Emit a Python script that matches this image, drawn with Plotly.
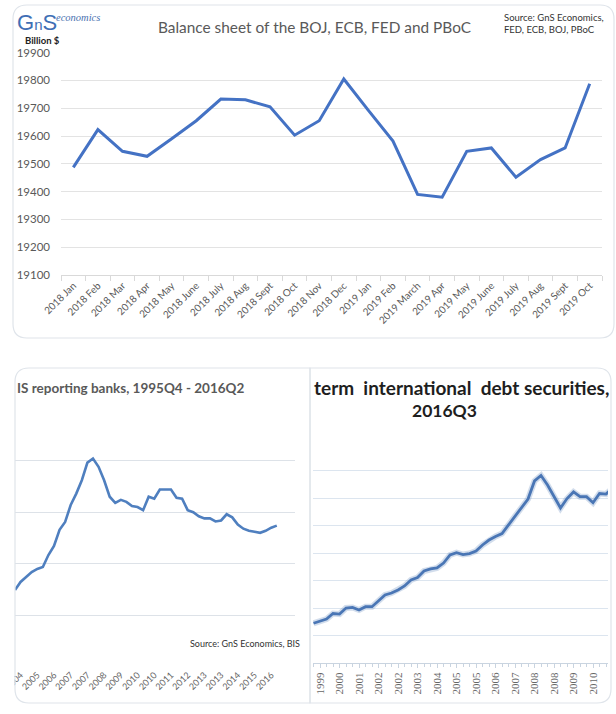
import plotly.graph_objects as go

W, H = 616, 714


def px(x):
    return x / W


def py(y):
    return 1 - y / H


# ---------------- data ----------------
# Top chart: balance sheet of BOJ, ECB, FED and PBoC (billion $)
months = ["2018 Jan", "2018 Feb", "2018 Mar", "2018 Apr", "2018 May", "2018 June",
          "2018 July", "2018 Aug", "2018 Sept", "2018 Oct", "2018 Nov", "2018 Dec",
          "2019 Jan", "2019 Feb", "2019 March", "2019 Apr", "2019 May", "2019 June",
          "2019 July", "2019 Aug", "2019 Sept", "2019 Oct"]
balance = [19487, 19623, 19545, 19527, 19590, 19655, 19733, 19730, 19705, 19603, 19655,
           19805, 19692, 19582, 19390, 19380, 19545, 19557, 19452, 19515, 19557, 19788]

# Bottom-left chart: BIS reporting banks, quarterly, visible part 2004Q3 - 2016Q2
bis_first_quarter = 2004.5
bis_values = [7.46, 8.24, 8.72, 9.2, 9.5, 9.69, 10.85, 11.73, 13.3, 14.05, 15.7, 16.8,
              18.1, 19.8, 20.2, 19.4, 18.1, 16.5, 15.9, 16.2, 16.0, 15.6, 15.5, 15.2,
              16.5, 16.3, 17.2, 17.2, 17.2, 16.4, 16.3, 15.2, 15.0, 14.6, 14.4, 14.4,
              14.1, 14.2, 14.8, 14.5, 13.8, 13.4, 13.2, 13.1, 13.0, 13.2, 13.5, 13.7]
bis_tick_labels = ["2004", "2005", "2006", "2007", "2007", "2008", "2009", "2010", "2010",
                   "2011", "2012", "2013", "2013", "2014", "2015", "2016"]
bis_first_tick = 2004.75

# Bottom-right chart: international debt securities, quarterly, visible part 1999Q3 - 2011Q1
debt_first_quarter = 1999.5
debt_values = [3.61, 3.82, 4.0, 4.5, 4.45, 5.0, 5.05, 4.82, 5.12, 5.12, 5.64, 6.18, 6.36,
               6.64, 7.0, 7.55, 7.77, 8.36, 8.55, 8.64, 9.09, 9.82, 10.03, 9.86, 9.95,
               10.18, 10.73, 11.18, 11.5, 11.77, 12.55, 13.36, 14.18, 14.91, 16.55, 17.05,
               16.18, 15.18, 14.09, 14.95, 15.55, 15.12, 15.12, 14.57, 15.41, 15.36, 15.9]
debt_tick_labels = ["1999", "2000", "2001", "2002", "2002", "2003", "2004", "2005", "2005",
                    "2006", "2007", "2008", "2008", "2009", "2010"]
debt_first_tick = 1999.75

bis_x = [bis_first_quarter + 0.25 * i for i in range(len(bis_values))]
bis_tickvals = [bis_first_tick + 0.75 * i for i in range(len(bis_tick_labels))]
debt_x = [debt_first_quarter + 0.25 * i for i in range(len(debt_values))]
debt_tickvals = [debt_first_tick + 0.75 * i for i in range(len(debt_tick_labels))]

FONT = "Lato, Carlito, Calibri, sans-serif"
GRAY = "#595959"

fig = go.Figure()

fig.add_trace(go.Scatter(x=months, y=balance, mode="lines", xaxis="x", yaxis="y",
                         line=dict(color="#4472c4", width=3), hoverinfo="skip"))
fig.add_trace(go.Scatter(x=bis_x, y=bis_values, mode="lines", xaxis="x2", yaxis="y2",
                         line=dict(color="#4f7fbf", width=2.6), hoverinfo="skip"))
fig.add_trace(go.Scatter(x=debt_x, y=debt_values, mode="lines", xaxis="x3", yaxis="y3",
                         line=dict(color="rgba(74,118,181,0.25)", width=6), hoverinfo="skip"))
fig.add_trace(go.Scatter(x=debt_x, y=debt_values, mode="lines", xaxis="x3", yaxis="y3",
                         line=dict(color="#4a76b5", width=2.8), hoverinfo="skip"))


def rounded_path(x0, y0, x1, y1, r_tl, r_tr, r_br, r_bl):
    # pixel coords -> paper coords, rounded corners via quadratic curves
    pts = []
    pts.append(f"M{px(x0 + r_tl)},{py(y0)}")
    pts.append(f"L{px(x1 - r_tr)},{py(y0)}")
    pts.append(f"Q{px(x1)},{py(y0)} {px(x1)},{py(y0 + r_tr)}")
    pts.append(f"L{px(x1)},{py(y1 - r_br)}")
    pts.append(f"Q{px(x1)},{py(y1)} {px(x1 - r_br)},{py(y1)}")
    pts.append(f"L{px(x0 + r_bl)},{py(y1)}")
    pts.append(f"Q{px(x0)},{py(y1)} {px(x0)},{py(y1 - r_bl)}")
    pts.append(f"L{px(x0)},{py(y0 + r_tl)}")
    pts.append(f"Q{px(x0)},{py(y0)} {px(x0 + r_tl)},{py(y0)}")
    pts.append("Z")
    return " ".join(pts)


BORDER = "#dfe4ea"
shapes = [
    # mask left of bottom-left card (clips the first tick label)
    dict(type="rect", xref="paper", yref="paper", x0=0, x1=px(14.5), y0=0, y1=py(360),
         fillcolor="white", line=dict(width=0), layer="above"),
    dict(type="path", xref="paper", yref="paper",
         path=rounded_path(13, 5, 614, 338, 14, 14, 14, 14),
         line=dict(color=BORDER, width=1.2), layer="above"),
    dict(type="path", xref="paper", yref="paper",
         path=rounded_path(15, 368, 310, 703, 14, 0, 0, 14),
         line=dict(color=BORDER, width=1.2), layer="above"),
    dict(type="path", xref="paper", yref="paper",
         path=rounded_path(310, 368, 611, 703, 0, 14, 14, 0),
         line=dict(color=BORDER, width=1.2), layer="above"),
]


def note(text, x, y, size, color, xanchor="left", yanchor="middle", family=FONT,
         align="left"):
    return dict(text=text, x=px(x), y=py(y), xref="paper", yref="paper",
                xanchor=xanchor, yanchor=yanchor, align=align, showarrow=False,
                font=dict(family=family, size=size, color=color))


annotations = [
    note("Balance sheet of the BOJ, ECB, FED and PBoC", 314, 27, 15.4, GRAY,
         xanchor="center"),
    note("Source: GnS Economics,<br>FED, ECB, BOJ, PBoC", 502, 10, 9.5, "#333333",
         yanchor="top"),
    note("<b>Billion $</b>", 23, 40, 9.5, "#222222"),
    note("G<span style='font-size:15px'>n</span>S", 15, 22, 22, "#3f6fb5",
         family="Liberation Sans, sans-serif"),
    note("<i>economics</i>", 54, 17, 10.5, "#4a72b0", family="Liberation Serif, serif"),
    note("<b>IS reporting banks, 1995Q4 - 2016Q2</b>", 15, 388, 13.5, GRAY),
    note("Source: GnS Economics, BIS", 188, 643, 9, "#333333"),
    note("<b>term\u00a0\u00a0international\u00a0\u00a0debt securities,</b>", 312, 388, 19,
         "#1e1e1e"),
    note("<b>2016Q3</b>", 444, 411, 17.5, "#1e1e1e", xanchor="center"),
]

fig.update_layout(
    template="none",
    width=W, height=H, autosize=False,
    margin=dict(l=0, r=0, t=0, b=0, pad=0),
    paper_bgcolor="white", plot_bgcolor="rgba(0,0,0,0)",
    showlegend=False, hovermode=False,
    shapes=shapes, annotations=annotations,
    # top chart
    xaxis=dict(domain=[px(61), px(602)], anchor="y", type="category", automargin=False,
               range=[-0.5, len(months) - 0.5], tickson="boundaries",
               ticks="outside", ticklen=5, tickcolor="#d9d9d9", showgrid=False,
               showline=True, linecolor="#d9d9d9", linewidth=1, tickangle=-45,
               tickfont=dict(family=FONT, size=10, color=GRAY), zeroline=False,
               fixedrange=True),
    yaxis=dict(domain=[py(275), py(52.6)], anchor="x", range=[19100, 19900], dtick=100,
               automargin=False, tickformat="d",
               showgrid=True, gridcolor="#e3e3e3", gridwidth=1, zeroline=False,
               showline=False, ticks="", ticklabelstandoff=10,
               tickfont=dict(family=FONT, size=11.5, color=GRAY), fixedrange=True),
    # bottom-left chart
    xaxis2=dict(domain=[px(15), px(295)], anchor="y2", automargin=False,
                range=[bis_first_quarter, bis_first_quarter + 280 / 22.28],
                tickmode="array", tickvals=bis_tickvals, ticktext=bis_tick_labels,
                ticks="", showgrid=False, showline=False, zeroline=False, tickangle=-45,
                tickfont=dict(family=FONT, size=9, color="#666666"), fixedrange=True),
    yaxis2=dict(domain=[py(667), py(409)], anchor="x2", range=[0, 25], dtick=5,
                automargin=False,
                showgrid=True, gridcolor="#dde2e8", gridwidth=1, zeroline=False,
                showticklabels=False, ticks="", showline=False, fixedrange=True),
    # bottom-right chart
    xaxis3=dict(domain=[px(313), px(608)], anchor="y3", automargin=False,
                range=[debt_first_quarter - 0.02, debt_first_quarter - 0.02 + 295 / 26],
                tickmode="array", tickvals=debt_tickvals, ticktext=debt_tick_labels,
                ticks="outside", ticklen=4, tickcolor="#c9d4e0",
                minor=dict(ticks="outside", ticklen=3, tickcolor="#c9d4e0",
                           tick0=1999.5, dtick=0.25, showgrid=False),
                showgrid=False, showline=True, linecolor="#c9d4e0", linewidth=1,
                zeroline=False, tickangle=-90,
                tickfont=dict(family="Liberation Serif, serif", size=11, color="#666666"),
                fixedrange=True),
    yaxis3=dict(domain=[py(663), py(443)], anchor="x3", range=[0, 20], dtick=2.5,
                automargin=False,
                showgrid=True, gridcolor="#dce5ef", gridwidth=1.3, zeroline=False,
                showticklabels=False, ticks="", showline=False, fixedrange=True),
)

fig.write_html("out.html", config={"displayModeBar": False},
               post_script="document.body.style.margin='0';"
                           "document.body.style.overflow='hidden';")
